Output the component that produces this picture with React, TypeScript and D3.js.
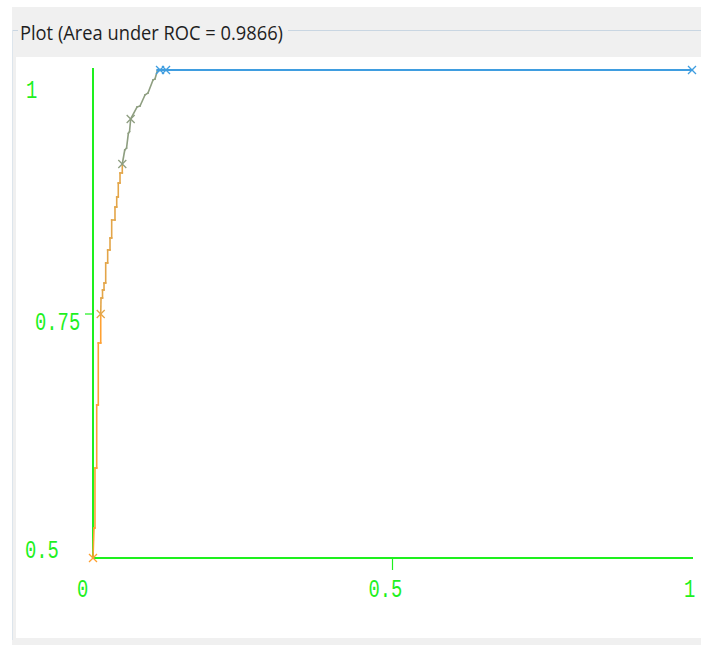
import React from "react";
import * as d3 from "d3";

// ROC curve points (false positive rate, true positive rate)
const fpr = [
  0, 0.0017, 0.0033, 0.0033, 0.0062, 0.0062, 0.0088, 0.0088, 0.0129, 0.0129,
  0.0134, 0.0159, 0.0159, 0.0184, 0.0184, 0.0212, 0.0212, 0.0245, 0.0245, 0.0284,
  0.0284, 0.0312, 0.0312, 0.0367, 0.0367, 0.0396, 0.0396, 0.0422, 0.0422, 0.0451,
  0.0451, 0.0489, 0.0489,
  0.053, 0.056, 0.059, 0.061, 0.0629,
  0.0735, 0.0785, 0.0868, 0.0918, 0.1002, 0.1035, 0.1077,
  0.1119, 0.1219, 1.0,
];
const tpr = [
  0.5, 0.5307, 0.5307, 0.5922, 0.5922, 0.6568, 0.6568, 0.7203, 0.7203, 0.75,
  0.7664, 0.7664, 0.7746, 0.7746, 0.7818, 0.7818, 0.8023, 0.8023, 0.8156, 0.8156,
  0.8279, 0.8279, 0.8463, 0.8463, 0.8596, 0.8596, 0.8699, 0.8699, 0.8842, 0.8842,
  0.8945, 0.8945, 0.9037,
  0.918, 0.92, 0.935, 0.937, 0.9498,
  0.9621, 0.9631, 0.9744, 0.9764, 0.9898, 0.9908, 1.0,
  1.0, 1.0, 1.0,
];
// threshold band of each point: 0 low, 1 mid-low, 2 mid, 3 high
const band = [
  0, 0, 0, 0, 0, 0, 0, 0, 0, 1,
  1, 1, 1, 1, 1, 1, 1, 1, 1, 1,
  1, 1, 1, 1, 1, 1, 1, 1, 1, 1,
  1, 1, 2,
  2, 2, 2, 2, 2,
  2, 2, 2, 2, 2, 2, 3,
  3, 3, 3,
];
// points that carry an "x" marker
const marked = [0, 9, 32, 37, 45, 46, 47];

const xTicks = [0, 0.5, 1];
const xTickLabels = ["0", "0.5", "1"];
const yTicks = [0.5, 0.75, 1];
const yTickLabels = ["0.5", "0.75", "1"];
const title = "Plot (Area under ROC = 0.9866)";

const bandColors = ["#ffa031", "#e3a548", "#8e9e80", "#3f9de0"];
const axisGreen = "#1ef01e";

export default function App() {
  const W = 701;
  const H = 645;
  const x = d3.scaleLinear().domain([0, 1]).range([93, 692]);
  const y = d3.scaleLinear().domain([0.5, 1]).range([558, 70]);
  const pts = fpr.map((f, i) => ({ f, t: tpr[i], b: band[i] }));
  const line = d3
    .line<{ f: number; t: number }>()
    .x((d) => x(d.f))
    .y((d) => y(d.t));

  const charW = 11.3;
  const xLabelPos = [
    { dx: -16, base: 597 },
    { dx: -24, base: 597 },
    { dx: -8, base: 597 },
  ];
  const yLabelPos = [
    { x0: 25, dy: 0 },
    { x0: 35, dy: 16 },
    { x0: 26, dy: 28 },
  ];
  const m = 4;

  return (
    <svg
      width={W}
      height={H}
      style={{ position: "absolute", left: 0, top: 0, display: "block" }}
    >
      <rect x={0} y={0} width={W} height={H} fill="#ffffff" />
      <rect x={12} y={7} width={W - 12} height={H - 7} fill="#f0f0f0" />
      <rect x={16} y={57} width={W - 16} height={638 - 57} fill="#ffffff" />
      {/* titled border */}
      <line x1={12.5} y1={30.5} x2={18} y2={30.5} stroke="#c9d6e2" />
      <line x1={288} y1={30.5} x2={W} y2={30.5} stroke="#c9d6e2" />
      <line x1={12.5} y1={30.5} x2={12.5} y2={640} stroke="#dde5ec" />
      <text
        x={20}
        y={40}
        fontFamily="'Open Sans', 'Liberation Sans', sans-serif"
        fontSize={20}
        fill="#1e1e1e"
        textLength={263}
        lengthAdjust="spacingAndGlyphs"
      >
        {title}
      </text>

      {/* axes */}
      <line x1={x(0)} y1={y(0.5)} x2={x(1) + 1} y2={y(0.5)} stroke={axisGreen} strokeWidth={2.2} />
      <line x1={x(0)} y1={y(0.5)} x2={x(0)} y2={y(1) - 2} stroke={axisGreen} strokeWidth={2} />
      <line x1={x(0.5)} y1={y(0.5)} x2={x(0.5)} y2={y(0.5) + 12} stroke={axisGreen} strokeWidth={1.2} />
      <line x1={x(0) - 8} y1={y(0.75)} x2={x(0)} y2={y(0.75)} stroke={axisGreen} strokeWidth={1.2} />

      {xTicks.map((v, i) => (
        <text
          key={"xt" + i}
          x={x(v) + xLabelPos[i].dx}
          y={xLabelPos[i].base}
          fontFamily="'Liberation Mono', 'DejaVu Sans Mono', monospace"
          fontSize={25}
          fill={axisGreen}
          textLength={xTickLabels[i].length * charW}
          lengthAdjust="spacingAndGlyphs"
        >
          {xTickLabels[i]}
        </text>
      ))}
      {yTicks.map((v, i) => (
        <text
          key={"yt" + i}
          x={yLabelPos[i].x0}
          y={y(v) + yLabelPos[i].dy}
          fontFamily="'Liberation Mono', 'DejaVu Sans Mono', monospace"
          fontSize={25}
          fill={axisGreen}
          textLength={yTickLabels[i].length * charW}
          lengthAdjust="spacingAndGlyphs"
        >
          {yTickLabels[i]}
        </text>
      ))}

      {/* curve segments, coloured by threshold band */}
      {pts.slice(0, -1).map((p, i) => (
        <path
          key={"s" + i}
          d={line([p, pts[i + 1]]) || ""}
          fill="none"
          stroke={bandColors[p.b]}
          strokeWidth={p.b === 3 ? 2.2 : 1.6}
          strokeLinecap="square"
        />
      ))}
      {marked.map((idx) => {
        const p = pts[idx];
        const cx = x(p.f);
        const cy = y(p.t);
        return (
          <path
            key={"m" + idx}
            d={`M${cx - m},${cy - m}L${cx + m},${cy + m}M${cx - m},${cy + m}L${cx + m},${cy - m}`}
            stroke={bandColors[p.b]}
            strokeWidth={1.3}
            fill="none"
          />
        );
      })}
    </svg>
  );
}
